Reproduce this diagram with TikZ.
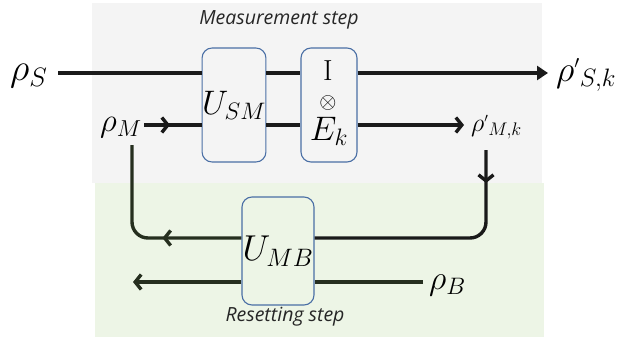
\RequirePackage{fix-cm}
\documentclass[tikz,border=0pt]{standalone}
\usepackage{fontspec}
\newfontfamily\stepfont{Open Sans}
\usetikzlibrary{arrows.meta,decorations.markings}
\definecolor{bgtop}{HTML}{F4F4F4}
\definecolor{bgbot}{HTML}{EDF5E6}
\definecolor{boxblue}{HTML}{4A6FA5}
\definecolor{linek}{HTML}{1A1A1A}
\definecolor{lineg}{HTML}{262F1F}
\begin{document}
\begin{tikzpicture}[x=1pt,y=-1pt,
  wire/.style={line width=3.4pt,draw=linek},
  gwire/.style={line width=3.4pt,draw=lineg},
  gate/.style={draw=boxblue,line width=1.1pt,rounded corners=10pt,inner sep=0pt},
  lbl/.style={inner sep=0pt},
  steplbl/.style={font=\stepfont\itshape\fontsize{19.5}{19.5}\selectfont,inner sep=0pt,text=black!85},
  barb/.style={-{Straight Barb[length=6pt,width=15pt,line width=3.4pt]}},
  tri/.style={-{Triangle[length=11pt,width=14pt]}},
  midarr/.style={postaction={decorate},decoration={markings,mark=at position #1 with {\arrow{Straight Barb[length=6pt,width=15pt,line width=3.4pt]}}}}
]
\useasboundingbox (0,0) rectangle (618,337);
% backgrounds
\fill[bgtop] (92,3) rectangle (542,183);
\fill[bgbot] (95,183) rectangle (544,337);
% labels
\node[steplbl] (meas) at (279,20) {Measurement step};
\node[steplbl] (reset) at (285,317) {Resetting step};
\node[lbl,font=\fontsize{38}{38}\selectfont,anchor=west] (rhoS) at (10,76) {$\rho_S$};
\node[lbl,font=\fontsize{33}{33}\selectfont,anchor=west] (rhoM) at (100,128) {$\rho_M$};
\node[lbl,font=\fontsize{36}{36}\selectfont,anchor=west] (rhoSk) at (556,75) {$\rho{}^{\scriptscriptstyle\prime}{}_{S,k}$};
\node[lbl,font=\fontsize{26}{26}\selectfont,anchor=west] (rhoMk) at (471,127) {$\rho{}^{\scriptscriptstyle\prime}{}_{M,k}$};
\node[lbl,font=\fontsize{34}{34}\selectfont,anchor=west] (rhoB) at (429,285) {$\rho_B$};
% gates
\node[gate,fill=bgtop,minimum width=56pt,minimum height=114pt,font=\fontsize{34}{34}\selectfont] (USM) at (234,105) {$U_{SM}$};
\node[gate,fill=bgtop,minimum width=56pt,minimum height=114pt] (IE) at (329,105) {};
\node[lbl,font=\fontsize{29}{29}\selectfont] (IEi) at (328,71) {$\mathrm{I}$};
\node[lbl,font=\fontsize{22}{22}\selectfont] (IEo) at (328,103) {$\otimes$};
\node[lbl,font=\fontsize{34}{34}\selectfont] (IEe) at (329,131) {$E_k$};
\node[gate,fill=bgbot,minimum width=72pt,minimum height=108pt,font=\fontsize{36}{36}\selectfont] (UMB) at (278,251) {$U_{MB}$};
% wire coordinates
\coordinate (sIn) at (58,73);
\coordinate (yM) at (0,125);
\coordinate (yR) at (0,238);
\coordinate (yB) at (0,282);
\coordinate (mIn) at (144,125);
\coordinate (mkTop) at (486,150);
\coordinate (mTurn) at (132,145);
\coordinate (bOut) at (133,282);
\coordinate (bIn) at (423,282);
% top wire
\draw[wire] (sIn) -- (sIn -| USM.west);
\draw[wire] (USM.east |- sIn) -- (IE.west |- sIn);
\draw[wire,tri] (IE.east |- sIn) -- (548,73) coordinate (sOut);
% middle wire
\draw[wire,midarr=26pt] (mIn) -- (USM.west |- yM);
\draw[wire] (USM.east |- yM) -- (IE.west |- yM);
\draw[wire,barb] (IE.east |- yM) -- (464,125) coordinate (mOut);
% feedback loop down
\draw[wire,midarr=33pt,rounded corners=16pt] (mkTop) -- (mkTop |- yR) -- (UMB.east |- yR);
\draw[gwire,midarr=79pt,rounded corners=16pt] (UMB.west |- yR) -- (mTurn |- yR) -- (mTurn);
% bath wire
\draw[gwire] (bIn) -- (UMB.east |- yB);
\draw[gwire,barb] (UMB.west |- yB) -- (bOut);
\end{tikzpicture}
\end{document}
